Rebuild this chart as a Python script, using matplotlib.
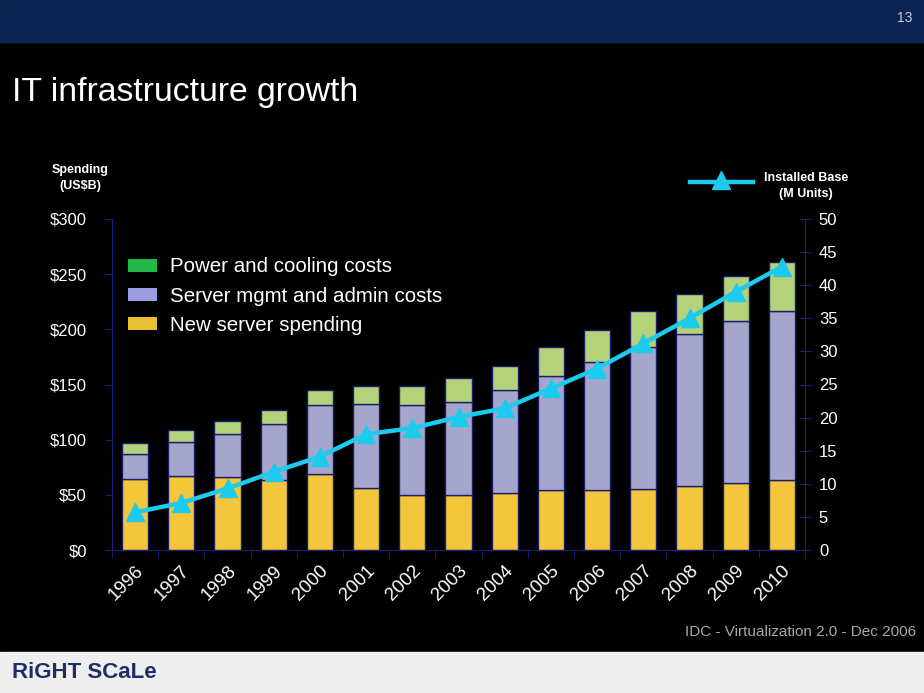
# IT infrastructure growth - stacked spending bars + installed base line
import matplotlib.pyplot as plt
from matplotlib.patches import Rectangle, Patch
from matplotlib.lines import Line2D
import numpy as np

plt.rcParams['font.family'] = ['Liberation Sans', 'DejaVu Sans']

# Data
years = ['1996', '1997', '1998', '1999', '2000', '2001', '2002', '2003',
         '2004', '2005', '2006', '2007', '2008', '2009', '2010']
new_server = [64, 67, 66, 63, 69, 56, 50, 50, 52, 54, 54, 55, 58, 61, 63]
mgmt_admin = [23, 31, 39, 51, 62, 76, 81, 84, 93, 104, 116, 129, 138, 147, 154]
power_cooling = [10, 11, 12, 13, 14, 17, 18, 22, 22, 26, 29, 33, 36, 40, 44]
installed_base = [5.7, 7.1, 9.3, 11.8, 14.1, 17.5, 18.4, 20.1, 21.4, 24.4,
                  27.4, 31.2, 35.0, 39.0, 42.8]
spend_ticks = [0, 50, 100, 150, 200, 250, 300]
spend_labels = ['$0', '$50', '$100', '$150', '$200', '$250', '$300']

yellow = '#f3c63c'
purple = '#a6a6cc'
green = '#b3d27a'
edge = '#1b1f6b'
axis_col = '#1b1f7a'
cyan = '#1ccbee'

fig = plt.figure(figsize=(9.24, 6.93), dpi=100, facecolor='black')

# header / footer bands
fig.patches.append(Rectangle((0, 1 - 42 / 693), 1, 42 / 693, transform=fig.transFigure,
                             color='#0c2552', zorder=0))
fig.patches.append(Rectangle((0, 0), 1, 41 / 693, transform=fig.transFigure,
                             color='#efefef', zorder=0))
fig.text(905 / 924, 1 - 18 / 693, '13', color='#c8cfe0', fontsize=10,
         ha='center', va='center')

fig.text(12 / 924, 1 - 93 / 693, 'IT infrastructure growth', color='white',
         fontsize=24.3, ha='left', va='center')

ax = fig.add_axes([112 / 924, 1 - 550 / 693, 693 / 924, 331 / 693])
ax.set_facecolor('black')
x = np.arange(len(years))
w = 0.57
ax.bar(x, new_server, w, color=yellow, edgecolor=edge, linewidth=1, zorder=2)
ax.bar(x, mgmt_admin, w, bottom=new_server, color=purple, edgecolor=edge, linewidth=1, zorder=2)
bottom2 = np.array(new_server) + np.array(mgmt_admin)
ax.bar(x, power_cooling, w, bottom=bottom2, color=green, edgecolor=edge, linewidth=1, zorder=2)

ax.set_xlim(-0.5, len(years) - 0.5)
ax.set_ylim(0, 300)
ax.set_yticks(spend_ticks)
ax.set_yticklabels(spend_labels)
ax.set_xticks(x)
ax.set_xticklabels(years, rotation=45, ha='right', rotation_mode='anchor')
ax.set_xticks(np.arange(-0.5, len(years), 1), minor=True)
ax.tick_params(axis='x', which='major', length=0, colors='white', labelsize=13.5, pad=9)
ax.tick_params(axis='x', which='minor', length=6, color=axis_col, direction='out')
ax.tick_params(axis='y', length=5, color=axis_col, labelcolor='white', labelsize=12, pad=13)
for s in ['top', 'right']:
    ax.spines[s].set_visible(False)
for s in ['left', 'bottom']:
    ax.spines[s].set_color(axis_col)

ax2 = ax.twinx()
ax2.plot(x, installed_base, color=cyan, lw=3.2, marker='^', ms=13, zorder=5)
ax2.set_ylim(0, 50)
ax2.set_yticks(range(0, 51, 5))
ax2.tick_params(axis='y', length=8, direction='inout', color=axis_col,
                labelcolor='white', labelsize=12, pad=6)
for s in ['top', 'left', 'bottom']:
    ax2.spines[s].set_visible(False)
ax2.spines['right'].set_color(axis_col)

# spending legend
handles = [Patch(facecolor='#22b84a', edgecolor='none'),
           Patch(facecolor='#9c9ce0', edgecolor='none'),
           Patch(facecolor='#e9c034', edgecolor='none')]
labels = ['Power and cooling costs', 'Server mgmt and admin costs', 'New server spending']
leg = fig.legend(handles, labels, loc='upper left', bbox_to_anchor=(109 / 924, 1 - 239 / 693),
                 frameon=False, fontsize=14.8, labelcolor='white', handlelength=1.45,
                 handleheight=0.6, labelspacing=0.5, handletextpad=0.6)

fig.text(80 / 924, 1 - 178 / 693, 'Spending\n(US$B)', color='white', fontsize=9,
         fontweight='bold', ha='center', va='center', linespacing=1.35)
fig.text(806 / 924, 1 - 186 / 693, 'Installed Base\n(M Units)', color='white', fontsize=9,
         fontweight='bold', ha='center', va='center', linespacing=1.35)
fig.add_artist(Line2D([690 / 924, 753 / 924], [1 - 182 / 693, 1 - 182 / 693],
                      transform=fig.transFigure, color=cyan, lw=3.2))
fig.add_artist(Line2D([721 / 924], [1 - 180 / 693], transform=fig.transFigure,
                      color=cyan, marker='^', ms=13, lw=0))

fig.text(916 / 924, 1 - 632 / 693, 'IDC - Virtualization 2.0 - Dec 2006', color='#a8a8a8',
         fontsize=11, ha='right', va='center')
fig.text(12 / 924, 1 - 672 / 693, 'RiGHT SCaLe', color='#1e2f66', fontsize=16,
         fontweight='bold', ha='left', va='center')

fig.savefig('out.png', dpi=100, facecolor=fig.get_facecolor())
